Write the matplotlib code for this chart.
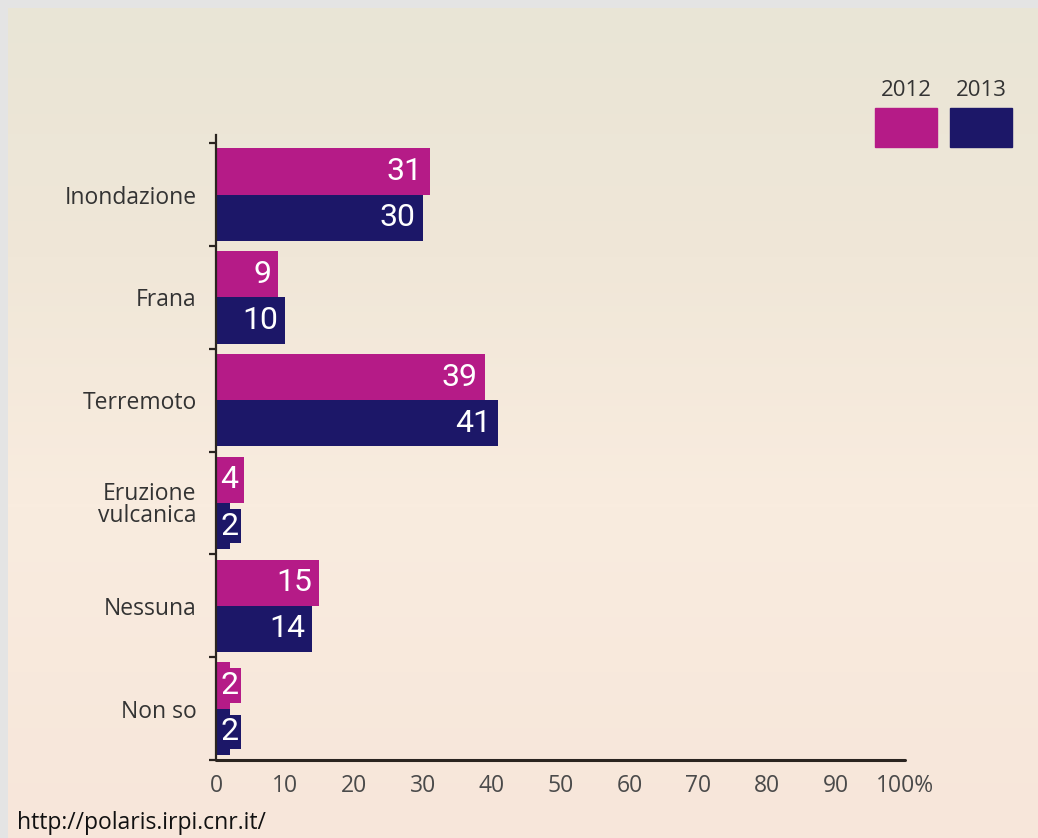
import numpy as np
import matplotlib
matplotlib.use("Agg")
import matplotlib.pyplot as plt
from matplotlib.patches import Rectangle

categories = ["Inondazione", "Frana", "Terremoto", "Eruzione\nvulcanica", "Nessuna", "Non so"]
values_2012 = [31, 9, 39, 4, 15, 2]
values_2013 = [30, 10, 41, 2, 14, 2]
years = ["2012", "2013"]
x_ticks = [0, 10, 20, 30, 40, 50, 60, 70, 80, 90, 100]
x_tick_labels = ["0", "10", "20", "30", "40", "50", "60", "70", "80", "90", "100%"]
source = "http://polaris.irpi.cnr.it/"

C_2012 = "#b51b87"
C_2013 = "#1c1768"
INK = "#2a2420"

W, H = 1038, 838
fig = plt.figure(figsize=(W / 100, H / 100), dpi=100, facecolor="#e4e4e4")

# soft beige-to-peach backdrop inside the grey frame
bg = fig.add_axes([8 / W, 0, (W - 8) / W, (H - 8) / H], zorder=-5)
stops_y = [0.0, 0.3, 0.6, 1.0]
stops_c = np.array([[233, 229, 214], [240, 231, 216], [249, 236, 223], [247, 230, 218]]) / 255
yy = np.linspace(0, 1, 256)
grad = np.stack([np.interp(yy, stops_y, stops_c[:, k]) for k in range(3)], axis=-1)
bg.imshow(grad[:, None, :], aspect="auto", extent=[0, 1, 1, 0])
bg.set_axis_off()

# main bar chart
top_px, bot_px, left_px, right_px = 135, 760, 216, 905
ax = fig.add_axes([left_px / W, (H - bot_px) / H,
                   (right_px - left_px) / W, (bot_px - top_px) / H])
ax.patch.set_alpha(0)

pos = np.arange(len(categories))
bh = 0.45
ax.barh(pos - bh / 2, values_2012, height=bh, color=C_2012, zorder=2)
ax.barh(pos + bh / 2, values_2013, height=bh, color=C_2013, zorder=2)

ax.set_xlim(0, 100)
ax.set_ylim(len(categories) - 0.5, -0.58)

for vals, off, col in ((values_2012, -bh / 2, C_2012), (values_2013, bh / 2, C_2013)):
    for i, v in enumerate(vals):
        if v < 5:
            # narrow bars: back the digit with the bar colour so it stays readable
            ax.annotate(str(v), (0, i + off), xytext=(3, 0), textcoords="offset points",
                        ha="left", va="center", color="white", fontsize=23,
                        family="Roboto", zorder=3,
                        bbox=dict(boxstyle="square,pad=0.08", fc=col, ec="none"))
        else:
            ax.annotate(str(v), (v, i + off), xytext=(-5, 0), textcoords="offset points",
                        ha="right", va="center", color="white", fontsize=23,
                        family="Roboto", zorder=3)

for s in ("top", "right"):
    ax.spines[s].set_visible(False)
ax.spines["left"].set_linewidth(1.6)
ax.spines["left"].set_color(INK)
ax.spines["bottom"].set_linewidth(2.2)
ax.spines["bottom"].set_color(INK)
ax.spines["bottom"].set_capstyle("round")

ax.set_xticks(x_ticks)
ax.set_xticklabels(x_tick_labels, family="Open Sans", fontsize=16.5, color="#4a4a4a")
ax.tick_params(axis="x", length=0, pad=10)

# boundary ticks on the left spine, labels at the category centres
ax.set_yticks(np.arange(len(categories) + 1) - 0.5)
ax.set_yticklabels([])
ax.tick_params(axis="y", which="major", length=5, width=1.6, color=INK, direction="out")
ax.set_yticks(pos, minor=True)
ax.set_yticklabels(categories, minor=True, family="Open Sans", fontsize=16.5,
                   color="#333333", linespacing=0.9)
ax.tick_params(axis="y", which="minor", length=0, pad=14)

# legend swatches
for k, (yr, col) in enumerate(zip(years, [C_2012, C_2013])):
    x0 = 875 + k * 75
    fig.patches.append(Rectangle((x0 / W, (H - 147) / H), 62 / W, 39 / H,
                                 transform=fig.transFigure, color=col))
    fig.text((x0 + 31) / W, (H - 90) / H, yr, ha="center", va="center",
             family="Open Sans", fontsize=16, color="#333333")

fig.text(17 / W, (H - 829) / H, source, ha="left", va="baseline",
         family="Open Sans", fontsize=16.5, color="#111111")

fig.savefig("out.png", dpi=100, facecolor=fig.get_facecolor())
